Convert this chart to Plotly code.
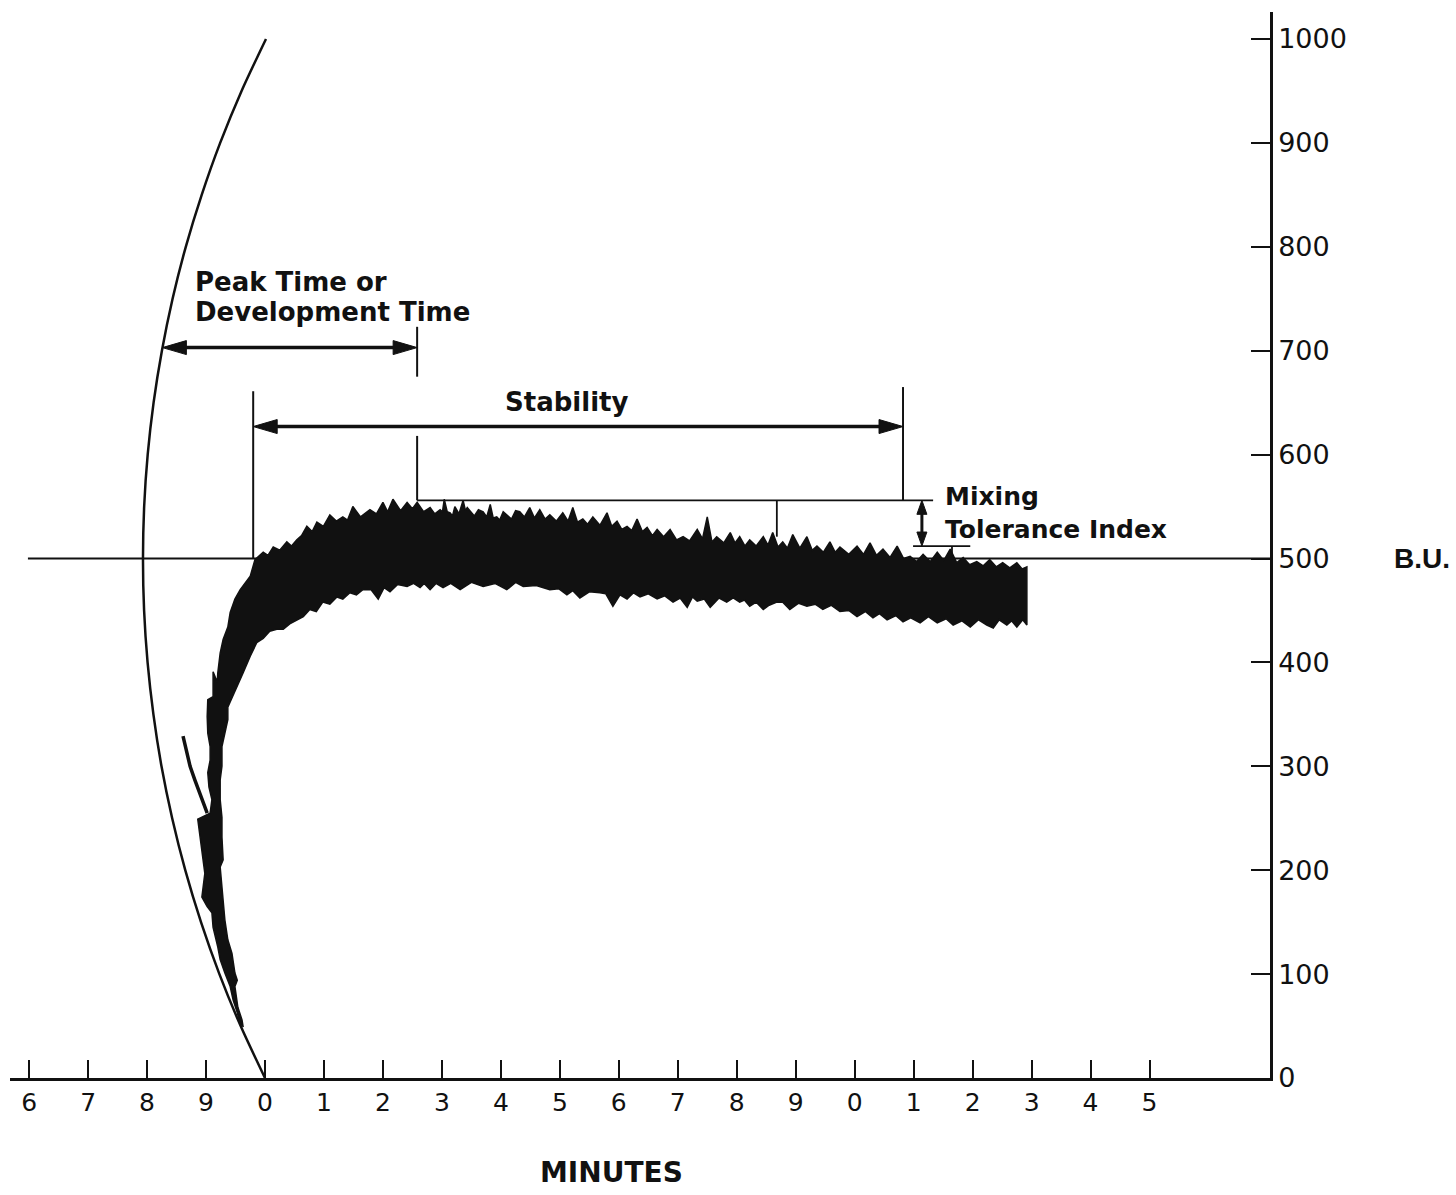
import plotly.graph_objects as go

# ---- Farinograph trace (minutes, Brabender units) ----
# Rising column, left edge from the foot upward
RISE_MIN = [-0.42, -0.47, -0.54, -0.59, -0.68, -0.76, -0.80, -0.88, -0.90, -0.98,
            -1.07, -1.02, -1.05, -1.10, -1.14, -0.93, -0.90, -0.95, -0.97, -0.93,
            -0.93, -0.97, -0.98, -0.97, -0.88, -0.88, -0.81, -0.80, -0.76, -0.71,
            -0.63, -0.59, -0.51, -0.42, -0.25]
RISE_BU = [51, 63, 75, 88, 101, 114, 126, 145, 159, 165,
           174, 197, 210, 229, 249, 255, 268, 280, 294, 306,
           319, 332, 348, 364, 367, 391, 381, 390, 409, 422,
           434, 448, 461, 470, 483]

# Top of the band, peaks and troughs of the pen swing
TOP_MIN = [-0.17, -0.03, 0.05, 0.14, 0.25, 0.37, 0.45, 0.54, 0.62, 0.71,
           0.80, 0.88, 0.99, 1.10, 1.21, 1.32, 1.40, 1.49, 1.62, 1.78,
           1.89, 2.00, 2.08, 2.17, 2.30, 2.41, 2.50, 2.58, 2.69, 2.80,
           2.88, 2.97, 3.01, 3.04, 3.09, 3.14, 3.18, 3.22, 3.29, 3.36,
           3.40, 3.43, 3.55, 3.62, 3.70, 3.76, 3.82, 3.87, 3.93, 3.98,
           4.04, 4.18, 4.25, 4.32, 4.40, 4.49, 4.57, 4.66, 4.75, 4.83,
           4.94, 5.05, 5.14, 5.22, 5.30, 5.39, 5.47, 5.56, 5.68, 5.80,
           5.88, 5.97, 6.05, 6.14, 6.22, 6.31, 6.40, 6.48, 6.57, 6.65,
           6.76, 6.87, 6.98, 7.09, 7.20, 7.33, 7.42, 7.50, 7.58, 7.66,
           7.78, 7.89, 7.97, 8.05, 8.14, 8.22, 8.33, 8.45, 8.53, 8.61,
           8.70, 8.78, 8.86, 8.95, 9.07, 9.19, 9.28, 9.36, 9.47, 9.58,
           9.67, 9.75, 9.90, 10.04, 10.15, 10.26, 10.37, 10.48, 10.60, 10.72,
           10.83, 10.94, 11.05, 11.16, 11.28, 11.40, 11.51, 11.62, 11.73, 11.84,
           11.95, 12.07, 12.18, 12.29, 12.40, 12.51, 12.63, 12.75, 12.84, 12.92]
TOP_BU = [499, 506, 503, 511, 508, 516, 512, 518, 522, 531,
          526, 535, 531, 542, 536, 540, 537, 550, 540, 547,
          543, 554, 545, 557, 546, 554, 548, 554, 545, 549,
          543, 547, 545, 557, 545, 544, 541, 550, 543, 556,
          546, 549, 541, 547, 545, 540, 552, 539, 540, 537,
          545, 538, 546, 545, 540, 549, 539, 547, 538, 542,
          536, 544, 536, 549, 535, 538, 533, 540, 532, 544,
          531, 536, 528, 531, 527, 538, 526, 530, 522, 528,
          521, 528, 518, 521, 517, 528, 519, 540, 516, 521,
          515, 525, 515, 521, 512, 518, 512, 521, 513, 525,
          511, 516, 510, 523, 510, 521, 508, 512, 506, 516,
          506, 511, 504, 512, 504, 515, 503, 509, 501, 512,
          500, 502, 497, 504, 497, 506, 498, 509, 496, 501,
          494, 497, 493, 499, 492, 496, 491, 496, 490, 492]

# Bottom of the band, from the end of the run back to the rise
BOTTOM_MIN = [12.92, 12.85, 12.75, 12.66, 12.58, 12.45, 12.35, 12.24, 12.10, 11.96,
              11.82, 11.67, 11.55, 11.40, 11.25, 11.11, 10.95, 10.82, 10.70, 10.55,
              10.42, 10.31, 10.18, 10.04, 9.90, 9.75, 9.60, 9.46, 9.33, 9.19,
              9.05, 8.90, 8.78, 8.68, 8.55, 8.45, 8.33, 8.22, 8.13, 8.05,
              7.94, 7.83, 7.70, 7.55, 7.45, 7.33, 7.25, 7.16, 7.04, 6.92,
              6.78, 6.65, 6.50, 6.36, 6.25, 6.14, 6.02, 5.90, 5.78, 5.68,
              5.50, 5.34, 5.22, 5.12, 4.98, 4.83, 4.60, 4.38, 4.25, 4.10,
              3.90, 3.70, 3.50, 3.31, 3.15, 3.02, 2.90, 2.80, 2.70, 2.63,
              2.52, 2.41, 2.25, 2.12, 2.02, 1.92, 1.80, 1.66, 1.55, 1.44,
              1.32, 1.22, 1.10, 0.98, 0.87, 0.76, 0.65, 0.54, 0.42, 0.31,
              0.20, 0.08, -0.03, -0.14]
BOTTOM_BU = [436, 441, 434, 440, 436, 441, 433, 436, 441, 434,
             440, 436, 442, 438, 444, 438, 443, 439, 445, 441,
             447, 443, 449, 444, 450, 449, 455, 451, 456, 454,
             457, 451, 458, 458, 455, 451, 458, 454, 460, 458,
             462, 458, 462, 453, 461, 459, 463, 453, 462, 458,
             464, 461, 466, 463, 467, 461, 465, 454, 466, 467,
             468, 462, 469, 465, 471, 470, 474, 473, 477, 470,
             476, 473, 477, 470, 476, 472, 476, 470, 476, 472,
             476, 473, 475, 468, 472, 461, 470, 470, 465, 467,
             461, 463, 456, 458, 449, 451, 444, 441, 437, 432,
             432, 430, 423, 419]

# Rising column, right edge down to the foot
FALL_MIN = [-0.25, -0.37, -0.47, -0.56, -0.63, -0.63, -0.68, -0.73, -0.73, -0.76,
            -0.76, -0.73, -0.73, -0.71, -0.76, -0.73, -0.71, -0.68, -0.63, -0.56,
            -0.51, -0.47, -0.51, -0.46, -0.39, -0.37]
FALL_BU = [406, 390, 377, 367, 357, 345, 332, 319, 300, 287,
           268, 251, 232, 210, 203, 184, 165, 152, 133, 120,
           101, 94, 88, 68, 56, 49]

# Thin pen stroke at the start of the recording
TAIL_MIN = [-1.39, -1.27, -1.19, -1.07, -0.98]
TAIL_BU = [329, 300, 287, 268, 255]

# Pen arc of the chart paper
ARC_BU = [0, 50, 100, 150, 200, 250, 300, 350, 400, 450, 500,
          550, 600, 650, 700, 750, 800, 850, 900, 950, 1000]
ARC_MIN = [0.0, -0.412, -0.773, -1.085, -1.352, -1.574, -1.755, -1.892, -1.991, -2.050, -2.069,
           -2.049, -1.989, -1.889, -1.748, -1.567, -1.343, -1.073, -0.760, -0.397, 0.017]

# Axes
MINUTE_TICKS = [-4, -3, -2, -1, 0, 1, 2, 3, 4, 5, 6, 7, 8, 9, 10, 11, 12, 13, 14, 15]
MINUTE_LABELS = ["6", "7", "8", "9", "0", "1", "2", "3", "4", "5",
                 "6", "7", "8", "9", "0", "1", "2", "3", "4", "5"]
BU_TICKS = [0, 100, 200, 300, 400, 500, 600, 700, 800, 900, 1000]
BU_LABELS = ["0", "100", "200", "300", "400", "500", "600", "700", "800", "900", "1000"]

# Readings marked on the curve
LINE_BU = 500          # 500 B.U. consistency line
ARRIVAL_MIN = -0.20    # curve reaches 500 B.U.
PEAK_MIN = 2.58        # peak / development time
DEPARTURE_MIN = 10.82  # curve leaves 500 B.U.
MTI_MIN = 11.14
MTI_READ_MIN = 8.68
PEAK_BU = 556
MTI_BU = 512
PEAK_ARROW_BU = 703
STAB_ARROW_BU = 627
ARC_AT_ARROW_MIN = -1.74

X_RANGE = [-4.324, 17.043]
Y_RANGE = [0, 1026]

INK = "#111111"

fig = go.Figure()

fig.add_trace(go.Scatter(
    x=ARC_MIN, y=ARC_BU, mode="lines",
    line=dict(color=INK, width=2.5, shape="spline", smoothing=0.8),
    hoverinfo="skip", showlegend=False, cliponaxis=False))

band_x = RISE_MIN + TOP_MIN + BOTTOM_MIN + FALL_MIN
band_y = RISE_BU + TOP_BU + BOTTOM_BU + FALL_BU
fig.add_trace(go.Scatter(
    x=band_x, y=band_y, mode="lines",
    fill="toself", fillcolor=INK, line=dict(color=INK, width=1.5),
    hoverinfo="skip", showlegend=False))

fig.add_trace(go.Scatter(
    x=TAIL_MIN, y=TAIL_BU, mode="lines",
    line=dict(color=INK, width=3.5),
    hoverinfo="skip", showlegend=False))

shapes = []


def seg(x0, y0, x1, y1, width=2.0, layer="above"):
    shapes.append(dict(type="line", xref="x", yref="y", x0=x0, y0=y0, x1=x1, y1=y1,
                       line=dict(color=INK, width=width), layer=layer))


def head(x, y, dx, dy, length=24, half=7):
    # filled arrowhead with its tip at (x, y), pointing along (dx, dy) in screen pixels
    px, py = -dy, dx
    bx, by = -dx * length, -dy * length
    path = "M0,0 L{:.1f},{:.1f} L{:.1f},{:.1f} Z".format(
        bx + px * half, by + py * half, bx - px * half, by - py * half)
    shapes.append(dict(type="path", xref="x", yref="y", xsizemode="pixel", ysizemode="pixel",
                       xanchor=x, yanchor=y, path=path,
                       fillcolor=INK, line=dict(color=INK, width=1)))


# 500 B.U. line, drawn beneath the curve
seg(-4.02, LINE_BU, X_RANGE[1], LINE_BU, width=2.2, layer="below")

# arrival marker
seg(ARRIVAL_MIN, LINE_BU, ARRIVAL_MIN, 661)
# peak time markers
seg(PEAK_MIN, 675, PEAK_MIN, 723)
seg(PEAK_MIN, PEAK_BU, PEAK_MIN, 618)
# departure marker
seg(DEPARTURE_MIN, PEAK_BU, DEPARTURE_MIN, 665)
# peak level line and tolerance readings
seg(PEAK_MIN, PEAK_BU, 11.33, PEAK_BU, width=1.8)
seg(MTI_READ_MIN, PEAK_BU, MTI_READ_MIN, 521, width=1.8)
seg(10.99, MTI_BU, 11.96, MTI_BU, width=1.8)
seg(11.65, 502, 11.65, MTI_BU, width=1.8)

# development time arrow
seg(ARC_AT_ARROW_MIN + 0.2, PEAK_ARROW_BU, PEAK_MIN - 0.2, PEAK_ARROW_BU, width=3.5)
head(ARC_AT_ARROW_MIN, PEAK_ARROW_BU, -1, 0)
head(PEAK_MIN, PEAK_ARROW_BU, 1, 0)

# stability arrow
seg(ARRIVAL_MIN + 0.2, STAB_ARROW_BU, DEPARTURE_MIN - 0.2, STAB_ARROW_BU, width=3.5)
head(ARRIVAL_MIN, STAB_ARROW_BU, -1, 0)
head(DEPARTURE_MIN, STAB_ARROW_BU, 1, 0)

# mixing tolerance arrow
seg(MTI_MIN, MTI_BU + 8, MTI_MIN, PEAK_BU - 8, width=3)
head(MTI_MIN, PEAK_BU, 0, 1, length=14, half=5)
head(MTI_MIN, MTI_BU, 0, -1, length=14, half=5)

label_font = dict(family="DejaVu Sans", size=26, color=INK, weight="bold")

annotations = [
    dict(x=-1.22, y=766, xref="x", yref="y", text="Peak Time or", showarrow=False,
         xanchor="left", yanchor="middle", font=label_font),
    dict(x=-1.22, y=737, xref="x", yref="y", text="Development Time", showarrow=False,
         xanchor="left", yanchor="middle", font=label_font),
    dict(x=5.12, y=651, xref="x", yref="y", text="Stability", showarrow=False,
         xanchor="center", yanchor="middle", font=label_font),
    dict(x=11.50, y=560, xref="x", yref="y", text="Mixing", showarrow=False,
         xanchor="left", yanchor="middle", font=dict(label_font, size=25)),
    dict(x=11.50, y=528, xref="x", yref="y", text="Tolerance Index", showarrow=False,
         xanchor="left", yanchor="middle", font=dict(label_font, size=25)),
    dict(x=1.1206, y=LINE_BU, xref="paper", yref="y", text="B.U.", showarrow=False,
         xanchor="center", yanchor="middle",
         font=dict(family="Liberation Sans", size=28, color=INK, weight="bold")),
    dict(x=5.88, y=-0.0882, xref="x", yref="paper", text="MINUTES", showarrow=False,
         xanchor="center", yanchor="middle",
         font=dict(family="DejaVu Sans", size=28, color=INK, weight="bold")),
]

fig.update_layout(
    width=1456, height=1195,
    margin=dict(l=10, r=186, t=12, b=117, autoexpand=False),
    paper_bgcolor="white", plot_bgcolor="white",
    showlegend=False,
    shapes=shapes, annotations=annotations,
    xaxis=dict(range=X_RANGE, showline=True, linecolor=INK, linewidth=2.5,
               ticks="inside", ticklen=18, tickwidth=2, tickcolor=INK,
               tickvals=MINUTE_TICKS, ticktext=MINUTE_LABELS,
               tickfont=dict(family="DejaVu Sans", size=25, color=INK),
               showgrid=False, zeroline=False, fixedrange=True),
    yaxis=dict(range=Y_RANGE, side="right", showline=True, linecolor=INK, linewidth=2.5,
               ticks="inside", ticklen=19, tickwidth=2, tickcolor=INK,
               tickvals=BU_TICKS, ticktext=BU_LABELS,
               tickfont=dict(family="DejaVu Sans", size=27, color=INK),
               showgrid=False, zeroline=False, fixedrange=True),
)

fig.write_html("out.html")
